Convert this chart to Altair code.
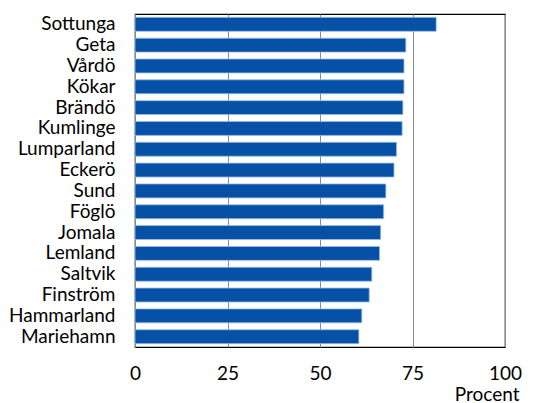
import altair as alt
import pandas as pd

kommuner = ["Sottunga", "Geta", "Vårdö", "Kökar", "Brändö", "Kumlinge", "Lumparland",
            "Eckerö", "Sund", "Föglö", "Jomala", "Lemland", "Saltvik", "Finström",
            "Hammarland", "Mariehamn"]
procent = [81.4, 73.2, 72.7, 72.7, 72.4, 72.2, 70.7, 70.0, 67.8, 67.2, 66.4, 66.1,
           64.0, 63.3, 61.3, 60.5]
ticks = [0, 25, 50, 75, 100]

df = pd.DataFrame({"kommun": kommuner, "procent": procent})

FONT = "Lato"

chart = alt.Chart(df).mark_bar(color="#0650A5", stroke="#9cbfe8", strokeWidth=0.8).encode(
    x=alt.X("procent:Q",
            scale=alt.Scale(domain=[0, 100], nice=False),
            axis=alt.Axis(values=ticks, title="Procent", grid=True, gridColor="#8a8a8a",
                          gridWidth=1, ticks=False, domain=False,
                          labelFontSize=19, labelFont=FONT, labelColor="black",
                          labelPadding=17, labelFlush=False,
                          titleFont=FONT, titleFontSize=19, titleFontWeight="normal",
                          titleColor="black", titleAnchor="end", titleAlign="right",
                          titleX=384, titleY=53, titleBaseline="alphabetic")),
    y=alt.Y("kommun:N", sort=kommuner,
            scale=alt.Scale(paddingInner=0.33, paddingOuter=0.16),
            axis=alt.Axis(title=None, ticks=False, domain=False, grid=False,
                          labelFontSize=19, labelFont=FONT, labelColor="black",
                          labelPadding=20, labelLimit=200)),
).properties(
    width=370, height=333,
    autosize=alt.AutoSizeParams(type="none"),
    padding={"left": 127, "top": 6, "right": 25, "bottom": 60},
).configure_view(
    stroke="black", strokeWidth=1.2
)

chart.save("out.html", embed_options={"renderer": "svg", "actions": False})
